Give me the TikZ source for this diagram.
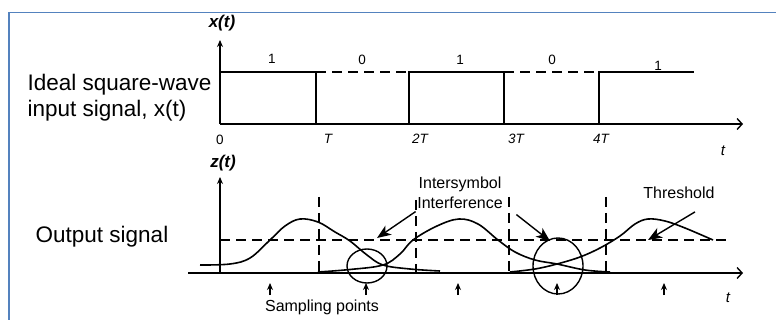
\documentclass[tikz,border=0pt]{standalone}
\usepackage{fontspec}
\setmainfont{Liberation Sans}
\usetikzlibrary{arrows.meta}
\definecolor{framebl}{RGB}{84,130,190}

\begin{document}
\begin{tikzpicture}[x=1pt, y=-1pt, line width=1.4pt,
    big/.style={font=\fontsize{22.5}{26}\selectfont},
    note/.style={font=\fontsize{16}{20}\selectfont},
    small/.style={font=\fontsize{13.5}{15}\selectfont},
    axlab/.style={font=\fontsize{17}{17}\selectfont\bfseries\itshape},
    dsh/.style={dash pattern=on 10pt off 6pt},
    axis/.style={-{Straight Barb[length=5pt,width=11pt]}},
    up/.style={-{Stealth[length=7pt,width=6pt]}},
    callout/.style={-{Stealth[length=14pt,width=11pt,inset=4pt]}}]
    \useasboundingbox (0,0) rectangle (776,320);
    \draw[framebl, line width=1.4pt] (9,320) -- (9,12.5) -- (776,12.5);

    % left hand captions
    \node[big, align=left, anchor=west, inner sep=0pt] (inlab) at (27,98)
        {Ideal square-wave\\input signal, x(t)};
    \node[big, anchor=west, inner sep=0pt] (outlab) at (35,237) {Output signal};

    % input signal x(t)
    \node[axlab] (xlab) at (222,23) {x(t)};
    \draw[up] (220,124) -- (220,40);
    \draw[axis] (220,124) -- (743,124);
    \node[small, font=\fontsize{15}{15}\selectfont\itshape] (tx) at (723,151) {t};

    \draw (220,72) -- (316,72) -- (316,124);
    \draw[dsh] (316,72) -- (409,72);
    \draw (409,124) -- (409,72) -- (504,72) -- (504,124);
    \draw[dsh] (504,72) -- (599,72);
    \draw (599,124) -- (599,72) -- (694,72);

    \foreach \b/\x/\y in {1/272/59, 0/362/60, 1/460/60, 0/552/60, 1/658/66} {
        \node[small] (bit\x) at (\x,\y) {\b};
    }
    \node[small] (tk0) at (220,140) {0};
    \foreach \lab/\x in {T/328, 2T/420, 3T/516, 4T/601} {
        \node[small, font=\fontsize{13.5}{15}\selectfont\itshape] (tk\x) at (\x,139) {\lab};
    }

    % output signal z(t)
    \node[axlab] (zlab) at (223,163) {z(t)};
    \draw[up] (220,273) -- (220,177);
    \draw[axis] (188,273) -- (743,273);
    \node[small, font=\fontsize{15}{15}\selectfont\itshape] (tz) at (728,298) {t};

    \draw[dsh] (220,240) -- (730,240);
    \foreach \x/\top in {319/197, 416/200, 509/197, 606/197} {
        \draw[dsh] (\x,\top) -- (\x,273);
    }

    % received pulses
    \draw[line width=1.6pt] plot[smooth, tension=0.6] coordinates {
        (200,265) (230,264) (250,258) (270,240) (285,226) (300,219) (318,222)
        (335,232) (350,241) (367,255) (383,265) (410,269) (440,271)};
    \draw[line width=1.6pt] plot[smooth, tension=0.6] coordinates {
        (318,272) (350,269.5) (383,265) (400,254) (413,240) (437,226) (459,219)
        (478,224) (498,240) (515,252) (535,260) (557,264) (585,270) (610,272)};
    \draw[line width=1.6pt] plot[smooth, tension=0.6] coordinates {
        (510,272) (535,269) (557,264) (580,257) (600,248) (620,236) (635,224)
        (648,219) (665,221) (685,228) (713,240)};

    \draw (367,266) ellipse [x radius=20pt, y radius=17pt];
    \draw (558,266) ellipse [x radius=25pt, y radius=28pt];

    % sampling instants
    \foreach \x in {270,366,458,557,664} {
        \draw[up, line width=1.1pt] (\x,295) -- (\x,283);
    }
    \node[note] (samp) at (322,307) {Sampling points};

    % callouts
    \node[note, align=center, inner sep=1pt] (isi) at (460,193) {Intersymbol\\Interference};
    \coordinate (isiA) at (377,238);
    \coordinate (isiB) at (550,241);
    \draw[callout] ([shift={(0,1)}]isi.south west) -- (isiA);
    \draw[callout] ([shift={(12,4)}]isi.south east) -- (isiB);

    \node[note] (thr) at (679,193) {Threshold};
    \coordinate (thrA) at (648,240);
    \draw[callout] ([shift={(16,9)}]thr.south) -- (thrA);
\end{tikzpicture}
\end{document}
